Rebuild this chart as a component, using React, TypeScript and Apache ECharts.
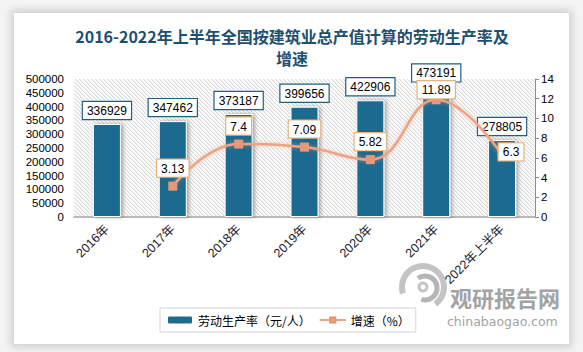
import React, { useEffect, useRef } from 'react';
import * as echarts from 'echarts';

const categories = ['2016年', '2017年', '2018年', '2019年', '2020年', '2021年', '2022年上半年'];
const productivity = [336929, 347462, 373187, 399656, 422906, 473191, 278805];
const growth: (number | null)[] = [null, 3.13, 7.4, 7.09, 5.82, 11.89, 6.3];
const titleText = '2016-2022年上半年全国按建筑业总产值计算的劳动生产率及\n增速';
const seriesNames = ['劳动生产率（元/人）', '增速（%）'];

function hatchUrl(): string {
  const c = document.createElement('canvas');
  c.width = 4;
  c.height = 4;
  const ctx = c.getContext('2d');
  if (!ctx) return '';
  ctx.fillStyle = '#ffffff';
  ctx.fillRect(0, 0, 4, 4);
  for (let i = 0; i < 4; i++) {
    ctx.fillStyle = '#dadada';
    ctx.fillRect(i, i, 1, 1);
    ctx.fillStyle = '#f0f0f0';
    ctx.fillRect((i + 1) % 4, i, 1, 1);
  }
  return c.toDataURL();
}

export default function App() {
  const ref = useRef<HTMLDivElement>(null);
  useEffect(() => {
    if (!ref.current) return;
    const chart = echarts.init(ref.current, undefined, { renderer: 'svg' });
    const hatch = hatchUrl();
    const lineLabelOffsets: Record<number, number[]> = { 5: [0, 8], 6: [9, 15] };
    const option: any = {
      animation: false,
      grid: {
        left: 74,
        right: 48,
        top: 79,
        bottom: 135,
        show: true,
        borderWidth: 0,
        backgroundColor: { image: hatch, repeat: 'repeat', imageWidth: 4, imageHeight: 4 },
      },
      legend: {
        left: 160,
        top: 308,
        padding: [6, 6],
        borderColor: '#d4d4d4',
        borderWidth: 1,
        itemWidth: 26,
        itemHeight: 9,
        itemGap: 8,
        textStyle: { fontSize: 12, color: '#000', fontFamily: 'Noto Sans CJK SC' },
        data: seriesNames,
      },
      xAxis: {
        type: 'category',
        data: categories,
        axisLine: { lineStyle: { color: '#a6a6a6', width: 1.5 } },
        axisTick: { show: false },
        axisLabel: {
          rotate: 45,
          margin: 10,
          fontSize: 12.5,
          color: '#1a1a2e',
          fontFamily: 'Liberation Sans, Noto Sans CJK SC',
        },
      },
      yAxis: [
        {
          type: 'value',
          min: 0,
          max: 500000,
          interval: 50000,
          axisLine: { show: false },
          axisTick: { show: false },
          splitLine: { show: false },
          axisLabel: {
            fontSize: 11.5,
            color: '#000',
            margin: 10,
            fontFamily: 'Liberation Sans',
            formatter: (v: number) => String(v),
          },
        },
        {
          type: 'value',
          min: 0,
          max: 14,
          interval: 2,
          position: 'right',
          axisLine: { show: true, lineStyle: { color: '#8c8c8c' } },
          axisTick: { show: true, length: 4, lineStyle: { color: '#8c8c8c' } },
          splitLine: { show: false },
          axisLabel: { fontSize: 11.5, color: '#000', margin: 6, fontFamily: 'Liberation Sans' },
        },
      ],
      series: [
        {
          name: seriesNames[0],
          type: 'bar',
          data: productivity,
          barWidth: 28,
          itemStyle: {
            color: '#1f6b8f',
            borderColor: '#ffffff',
            borderWidth: 1,
            shadowColor: 'rgba(0,0,0,0.35)',
            shadowBlur: 4,
            shadowOffsetX: 2,
            shadowOffsetY: 0,
          },
          label: {
            show: true,
            position: 'top',
            distance: 5,
            fontSize: 12,
            color: '#000',
            fontFamily: 'Liberation Sans',
            backgroundColor: '#fff',
            borderColor: '#1f5f80',
            borderWidth: 1.2,
            padding: [3, 4, 2, 4],
          },
          z: 2,
        },
        {
          name: seriesNames[1],
          type: 'line',
          yAxisIndex: 1,
          smooth: 0.45,
          data: growth.map((v, i) =>
            lineLabelOffsets[i]
              ? { value: v, label: { offset: lineLabelOffsets[i] } }
              : v
          ),
          symbol: 'rect',
          symbolSize: 9,
          lineStyle: {
            color: '#eea382',
            width: 2.5,
            shadowColor: 'rgba(238,163,130,0.6)',
            shadowBlur: 4,
          },
          itemStyle: { color: '#e5997a' },
          label: {
            show: true,
            position: 'top',
            distance: 5,
            fontSize: 12,
            color: '#000',
            fontFamily: 'Liberation Sans',
            backgroundColor: '#fff',
            borderColor: '#e2b37d',
            borderWidth: 1.2,
            padding: [3, 4, 2, 4],
          },
          z: 3,
        },
      ],
      graphic: [
        {
          type: 'text',
          silent: true,
          style: {
            text: titleText,
            x: 292,
            y: 25,
            textAlign: 'center',
            textVerticalAlign: 'top',
            lineHeight: 22,
            fill: '#1d4f6e',
            font: 'bold 16px "Noto Sans CJK SC"',
          },
        },
        {
          type: 'group',
          z: -1,
          silent: true,
          children: [
            {
              type: 'arc',
              shape: { cx: 423, cy: 287, r: 21, startAngle: Math.PI * 0.9, endAngle: Math.PI * 2.3 },
              style: { stroke: '#c4c4c4', lineWidth: 6, fill: 'none' },
            },
            {
              type: 'arc',
              shape: { cx: 425, cy: 288, r: 12, startAngle: Math.PI * 1.3, endAngle: Math.PI * 2.6 },
              style: { stroke: '#b5b5b5', lineWidth: 5, fill: 'none' },
            },
            {
              type: 'arc',
              shape: { cx: 423, cy: 287, r: 4, startAngle: 0, endAngle: Math.PI * 2 },
              style: { stroke: '#c4c4c4', lineWidth: 3, fill: 'none' },
            },
            {
              type: 'text',
              style: {
                text: '观研报告网',
                x: 450,
                y: 286,
                fill: '#a3a3a3',
                font: 'bold 22px "Noto Sans CJK SC"',
              },
            },
            {
              type: 'text',
              style: {
                text: 'chinabaogao.com',
                x: 447,
                y: 315,
                fill: '#a3a3a3',
                font: '12.5px "DejaVu Sans"',
              },
            },
          ],
        },
      ],
    };
    chart.setOption(option);
    return () => chart.dispose();
  }, []);

  return (
    <div style={{ position: 'absolute', left: 0, top: 0, width: 583, height: 352, background: '#f4f4f4', overflow: 'hidden' }}>
      <div
        style={{
          position: 'absolute',
          left: 14,
          top: 13,
          width: 555,
          height: 331,
          background: '#ffffff',
          boxShadow: '0 0 8px 3px rgba(0,0,0,0.16)',
        }}
      />
      <div ref={ref} style={{ position: 'absolute', left: 0, top: 0, width: 583, height: 352 }} />
    </div>
  );
}
